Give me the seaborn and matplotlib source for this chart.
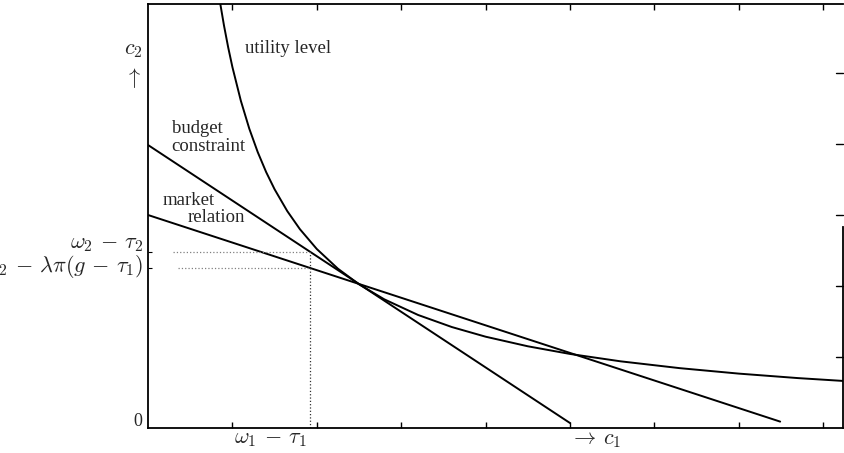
import numpy as np
import pandas as pd
import seaborn as sns
import matplotlib
matplotlib.use("Agg")
import matplotlib.pyplot as plt

# values (x unit = one bottom tick, y unit = one right tick)
utility_x = [0.85, 0.9, 0.95, 1.0, 1.1, 1.2, 1.3, 1.4, 1.5, 1.65, 1.8, 2.0, 2.25,
             2.5, 2.8, 3.2, 3.6, 4.0, 4.5, 5.0, 5.6, 6.3, 7.0, 7.7, 8.235]
utility_y = [6.020, 5.671, 5.361, 5.084, 4.609, 4.216, 3.886, 3.604, 3.362, 3.055,
             2.800, 2.521, 2.244, 2.024, 1.812, 1.592, 1.422, 1.286, 1.151, 1.043,
             0.939, 0.843, 0.766, 0.703, 0.663]
budget_x = [0.0, 5.0]
budget_y = [3.986, 0.07]
market_x = [0.0, 7.49]
market_y = [3.0, 0.09]
endow_x = 1.919
endow_y = 2.483
market_at_endow = 2.254

x_ticks = [1, 2, 3, 4, 5, 6, 7, 8]
y_ticks = [1, 2, 3, 4, 5]

curves = pd.concat([
    pd.DataFrame({"c1": utility_x, "c2": utility_y, "curve": "utility level"}),
    pd.DataFrame({"c1": budget_x, "c2": budget_y, "curve": "budget constraint"}),
    pd.DataFrame({"c1": market_x, "c2": market_y, "curve": "market relation"}),
])

sns.set_theme(style="white")
plt.rcParams['font.family'] = ['Liberation Serif', 'DejaVu Serif']
plt.rcParams['mathtext.fontset'] = 'cm'

fig = plt.figure(figsize=(8.45, 4.53), dpi=100)
ax = fig.add_axes([148 / 845, 25 / 453, 695 / 845, 424 / 453])

sns.lineplot(data=curves, x="c1", y="c2", units="curve", estimator=None, sort=False,
             color="black", linewidth=1.4, ax=ax, legend=False)

# dotted guides to the endowment point
ax.plot([0.3, endow_x], [endow_y, endow_y], ls=":", color="0.5", lw=0.9)
ax.plot([0.35, endow_x], [market_at_endow, market_at_endow], ls=":", color="0.5", lw=0.9)
ax.plot([endow_x, endow_x], [0, endow_y], ls=":", color="0.2", lw=0.9)

ax.set_xlim(0, 695 / 84.4)
ax.set_ylim(0, 424 / 71)
ax.set_xlabel("")
ax.set_ylabel("")

for side in ["left", "bottom", "top", "right"]:
    ax.spines[side].set_color("black")
    ax.spines[side].set_linewidth(1.3)
ax.spines["right"].set_bounds(0, 2.83)

ax.set_xticks(x_ticks)
ax.set_xticklabels([])
ax.set_yticks([market_at_endow, endow_y])
ax.set_yticklabels([])
ax.tick_params(axis="x", direction="in", length=4, width=1, color="black",
               bottom=True, top=True)
ax.tick_params(axis="y", direction="in", length=3, width=0.8, color="black",
               left=True, right=False)
for yt in y_ticks:
    ax.plot([8.235 - 0.08, 8.235], [yt, yt], color="black", lw=1, clip_on=False)

# curve labels
lab = dict(fontsize=13.5, ha="left", va="center")
ax.text(1.15, 5.35, "utility level", **lab)
ax.text(0.28, 4.22, "budget", **lab)
ax.text(0.28, 3.96, "constraint", **lab)
ax.text(0.17, 3.21, "market", **lab)
ax.text(0.47, 2.97, "relation", **lab)

# axis labels
fig.text(133 / 845, 1 - 50 / 453, r"$c_2$", fontsize=16, ha="center", va="center")
fig.text(133 / 845, 1 - 78 / 453, r"$\uparrow$", fontsize=16, ha="center", va="center")
fig.text(143 / 845, 1 - 244 / 453, r"$\omega_2 \,-\, \tau_2$", fontsize=16,
         ha="right", va="center")
fig.text(143 / 845, 1 - 267 / 453, r"$\omega_2 \,-\, \lambda\pi(g \,-\, \tau_1)$",
         fontsize=16, ha="right", va="center")
fig.text(142 / 845, 1 - 421 / 453, "0", fontsize=13, ha="right", va="center")
fig.text(270 / 845, 1 - 440 / 453, r"$\omega_1 \,-\, \tau_1$", fontsize=16,
         ha="center", va="center")
fig.text(596 / 845, 1 - 440 / 453, r"$\rightarrow\, c_1$", fontsize=16,
         ha="center", va="center")

fig.savefig("out.png", dpi=100)
